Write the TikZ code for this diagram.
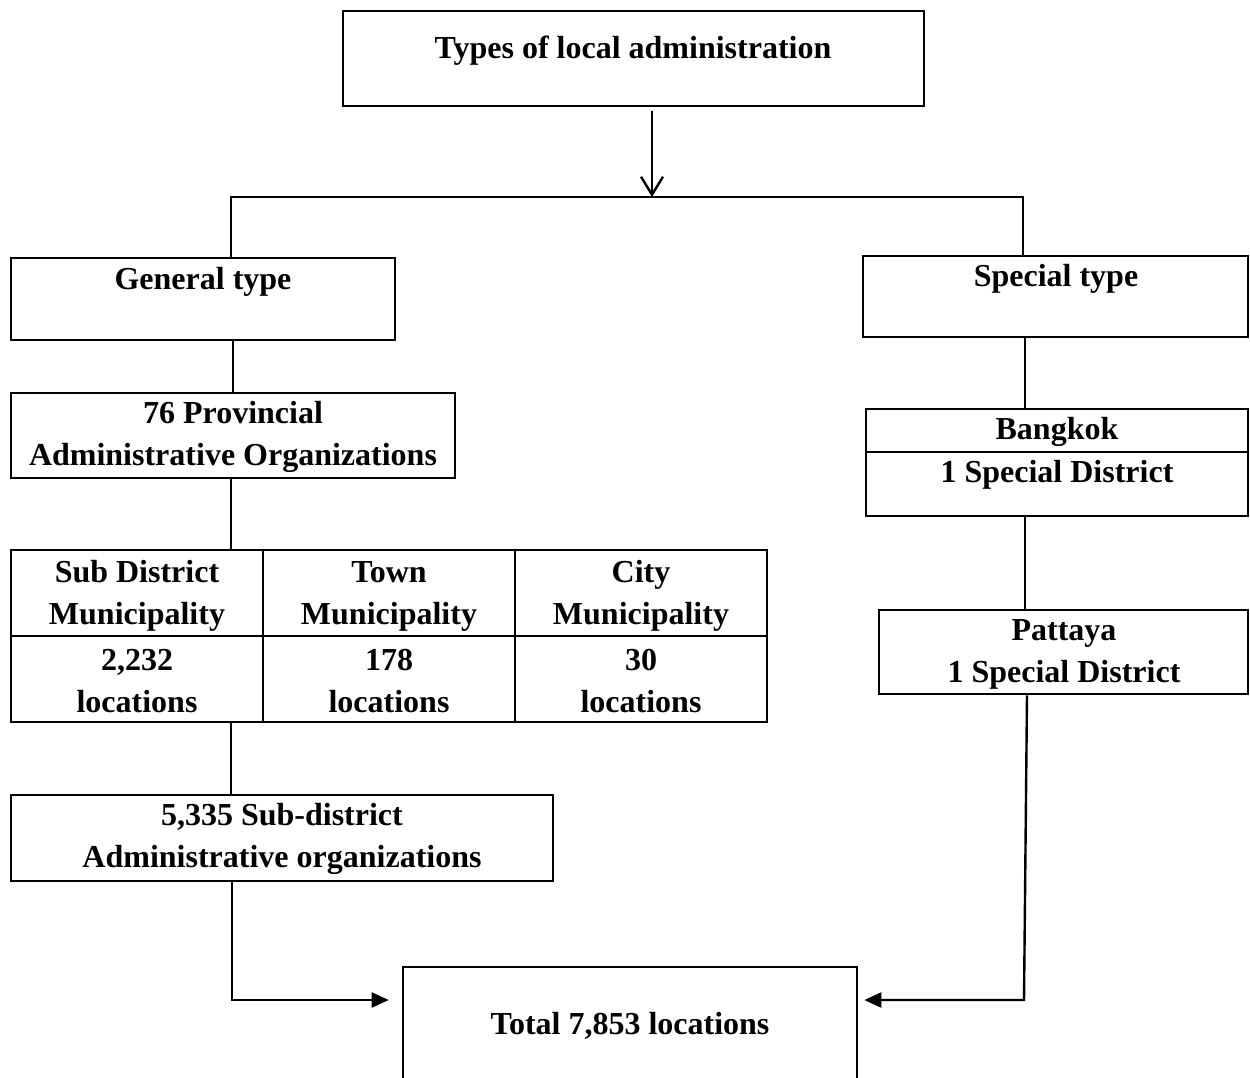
\documentclass[tikz,border=0pt]{standalone}
\usepackage{fontspec}
\setmainfont{Liberation Serif}
\usetikzlibrary{arrows.meta}
\begin{document}
\begin{tikzpicture}[x=1pt,y=-1pt,
  box/.style={draw=black,line width=2.6pt,rectangle,inner sep=0pt},
  txt/.style={font=\fontsize{32}{42}\selectfont\bfseries,align=center,inner sep=0pt},
  conn/.style={draw=black,line width=2.4pt}]
\useasboundingbox (0,0) rectangle (1250,1077);
% boxes
\node[box,minimum width=581pt,minimum height=95pt] (top) at (633.5,58.5) {};
\node[box,minimum width=384pt,minimum height=82pt] (gen) at (203,299) {};
\node[box,minimum width=385pt,minimum height=81pt] (spec) at (1055.5,296.5) {};
\node[box,minimum width=444pt,minimum height=85pt] (prov) at (233,435.5) {};
\node[box,minimum width=756pt,minimum height=172pt] (tbl) at (389,636) {};
\node[box,minimum width=542pt,minimum height=86pt] (sub) at (282,838) {};
\node[box,minimum width=454pt,minimum height=133pt] (total) at (630,1033.5) {};
\node[box,minimum width=382pt,minimum height=107pt] (bkk) at (1057,462.5) {};
\node[box,minimum width=369pt,minimum height=84pt] (pat) at (1063.5,652) {};
% inner dividers
\coordinate (c1) at (263,0);
\coordinate (c2) at (515,0);
\coordinate (r1) at (0,636);
\coordinate (r2) at (0,452);
\draw[line width=2.6pt] (c1 |- tbl.north) -- (c1 |- tbl.south);
\draw[line width=2.6pt] (c2 |- tbl.north) -- (c2 |- tbl.south);
\draw[line width=2.6pt] (tbl.west |- r1) -- (tbl.east |- r1);
\draw[line width=2.6pt] (bkk.west |- r2) -- (bkk.east |- r2);
% texts
\node[txt] (ttop) at (633,51) {Types of local administration};
\node[txt] (tgen) at (203,282) {General type};
\node[txt] (tspec) at (1056,279) {Special type};
\node[txt] (tprov) at (233,437) {76 Provincial\\Administrative Organizations};
\node[txt] (ta1) at (137,596) {Sub District\\Municipality};
\node[txt] (ta2) at (389,596) {Town\\Municipality};
\node[txt] (ta3) at (641,596) {City\\Municipality};
\node[txt] (tb1) at (137,681) {2,232\\locations};
\node[txt] (tb2) at (389,681) {178\\locations};
\node[txt] (tb3) at (641,681) {30\\locations};
\node[txt] (tsub) at (282,839) {5,335 Sub-district\\Administrative organizations};
\node[txt] (ttot) at (630,1026) {Total 7,853 locations};
\node[txt] (tbkk1) at (1057,432) {Bangkok};
\node[txt] (tbkk2) at (1057,475) {1 Special District};
\node[txt] (tpat) at (1064,654) {Pattaya\\1 Special District};
% connector coordinates
\coordinate (split) at (652,197);
\coordinate (bl) at (231,197);
\coordinate (br) at (1023,197);
\coordinate (rc) at (1025,0);
\coordinate (pb) at (1027,0);
\coordinate (jl) at (232,1000);
\coordinate (jr) at (1024,1000);
% connectors
\draw[conn,-{Straight Barb[length=18pt,width=22pt]},shorten <=4pt] (split |- top.south) -- (split);
\draw[conn] (bl |- gen.north) -- (bl) -- (br) -- (br |- spec.north);
\draw[conn] (prov.north |- gen.south) -- (prov.north);
\draw[conn] (bl |- prov.south) -- (bl |- tbl.north);
\draw[conn] (bl |- tbl.south) -- (bl |- sub.north);
\draw[conn,-{Triangle[length=17pt,width=15pt]},shorten >=13pt] (jl |- sub.south) -- (jl) -- (jl -| total.west);
\draw[conn] (rc |- spec.south) -- (rc |- bkk.north);
\draw[conn] (rc |- bkk.south) -- (rc |- pat.north);
\draw[conn,-{Triangle[length=17pt,width=15pt]},shorten >=6pt] (pb |- pat.south) -- (jr) -- (jr -| total.east);
\end{tikzpicture}
\end{document}
